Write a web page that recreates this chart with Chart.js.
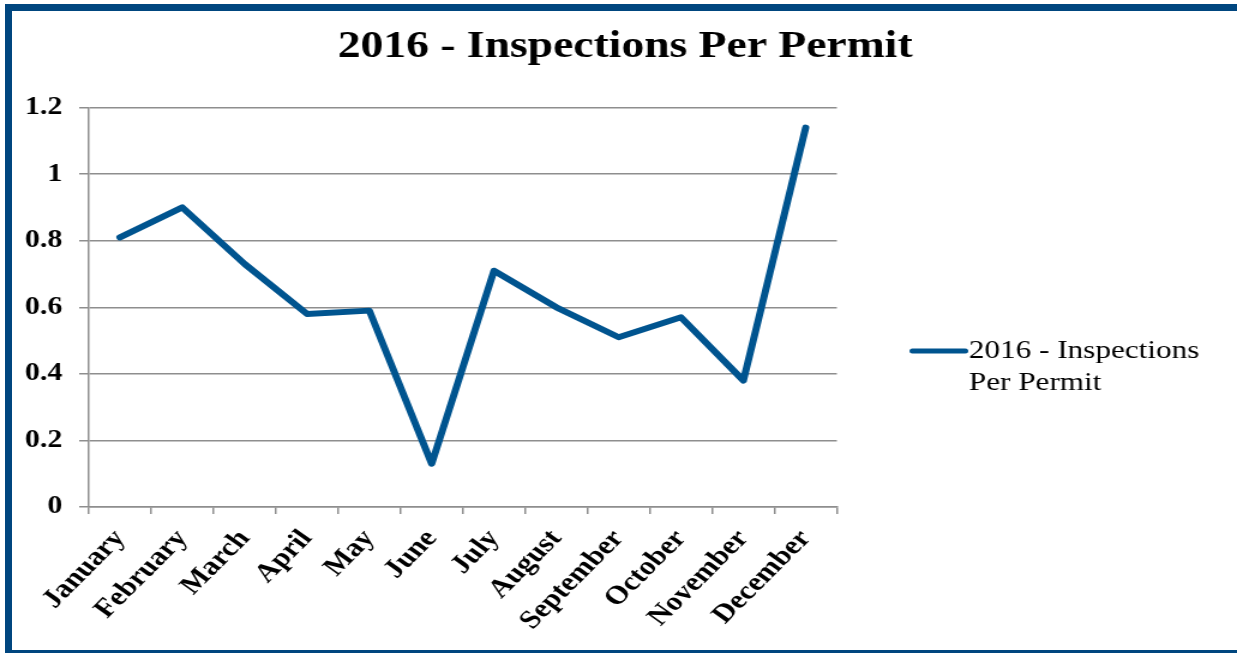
<!DOCTYPE html>
<html>
<head>
<meta charset="utf-8">
<script src="https://cdn.jsdelivr.net/npm/chart.js@4.4.1/dist/chart.umd.min.js"></script>
<style>
    html, body { margin: 0; padding: 0; background: #fff; overflow: hidden; }
    #wrap { position: relative; width: 1237px; height: 653px; }
    /* the source picture is stretched sideways, so the canvas is drawn narrow and widened */
    #inspectionsChart { position: absolute; left: 0; top: 0; width: 1237px; height: 653px; }
    #frame {
        position: absolute; left: 5px; top: 4px; width: 1232px; height: 649px;
        box-sizing: border-box; pointer-events: none;
        border-left: 7px solid #00467f; border-top: 7px solid #00467f; border-bottom: 3px solid #00467f;
    }
</style>
</head>
<body>
<div id="wrap">
    <canvas id="inspectionsChart" width="1031" height="653" style="width:1237px;height:653px"></canvas>
    <div id="frame"></div>
</div>
<script>
const months = ["January", "February", "March", "April", "May", "June",
    "July", "August", "September", "October", "November", "December"];
const inspectionsPerPermit = [0.81, 0.90, 0.73, 0.58, 0.59, 0.13, 0.71, 0.60, 0.51, 0.57, 0.38, 1.14];
const yTickLabels = ["0", "0.2", "0.4", "0.6", "0.8", "1", "1.2"];
const titleText = "2016 - Inspections Per Permit";
const legendLines = ["2016 - Inspections", "Per Permit"];

const lineColor = "#00548f";
const gridColor = "#8e8e8e";
const serif = "'Liberation Serif', 'Times New Roman', serif";

// legend drawn beside the plot, text wraps onto two lines like the original
const sideLegend = {
    id: "sideLegend",
    afterDraw(chart) {
        const ctx = chart.ctx;
        const x0 = chart.chartArea.right + 63;
        const y0 = 351;
        ctx.save();
        ctx.strokeStyle = chart.data.datasets[0].borderColor;
        ctx.lineWidth = 5;
        ctx.lineCap = "round";
        ctx.beginPath();
        ctx.moveTo(x0, y0);
        ctx.lineTo(x0 + 44, y0);
        ctx.stroke();
        ctx.font = "26px " + serif;
        ctx.fillStyle = "#000";
        ctx.textAlign = "left";
        ctx.textBaseline = "alphabetic";
        legendLines.forEach((t, i) => ctx.fillText(t, x0 + 47, y0 + 7 + i * 32));
        ctx.restore();
    }
};

document.addEventListener("DOMContentLoaded", function () {
    const ctx = document.getElementById("inspectionsChart").getContext("2d");

    new Chart(ctx, {
        type: "line",
        data: {
            labels: months,
            datasets: [{
                label: legendLines.join(" "),
                data: inspectionsPerPermit,
                borderColor: lineColor,
                backgroundColor: lineColor,
                borderWidth: 6,
                borderJoinStyle: "round",
                borderCapStyle: "round",
                pointRadius: 0,
                tension: 0,
                fill: false,
            }],
        },
        options: {
            responsive: false,
            devicePixelRatio: 1,
            animation: false,
            layout: { padding: { left: 11, right: 0, top: 0, bottom: 0 } },
            scales: {
                x: {
                    offset: true,
                    grid: { offset: true, drawOnChartArea: false, drawTicks: true, tickLength: 7, color: gridColor, lineWidth: 1.5 },
                    border: { display: true, color: gridColor, width: 1.5 },
                    ticks: {
                        autoSkip: false,
                        minRotation: 50,
                        maxRotation: 50,
                        padding: 10,
                        color: "#000",
                        font: { family: serif, size: 26, weight: "bold" },
                    },
                    afterFit: (s) => { s.height = 146; },
                },
                y: {
                    min: 0,
                    max: 1.2,
                    ticks: {
                        stepSize: 0.2,
                        padding: 14,
                        color: "#000",
                        font: { family: serif, size: 25, weight: "bold" },
                        callback: (value, index) => yTickLabels[index],
                    },
                    grid: { color: gridColor, lineWidth: 1.5, tickLength: 8 },
                    border: { display: true, color: gridColor, width: 1.5 },
                    afterFit: (s) => { s.width = 63; },
                },
                // empty axis that only reserves room for the legend on the right
                legendSpace: {
                    type: "linear",
                    position: "right",
                    grid: { display: false, drawOnChartArea: false },
                    ticks: { display: false },
                    border: { display: false },
                    afterFit: (s) => { s.width = 333.5; },
                },
            },
            plugins: {
                legend: { display: false },
                tooltip: { enabled: false },
                title: {
                    display: true,
                    text: titleText,
                    color: "#000",
                    font: { family: serif, size: 38, weight: "bold" },
                    padding: { top: 24, bottom: 38 },
                },
            },
        },
        plugins: [sideLegend],
    });
});
</script>
</body>
</html>
